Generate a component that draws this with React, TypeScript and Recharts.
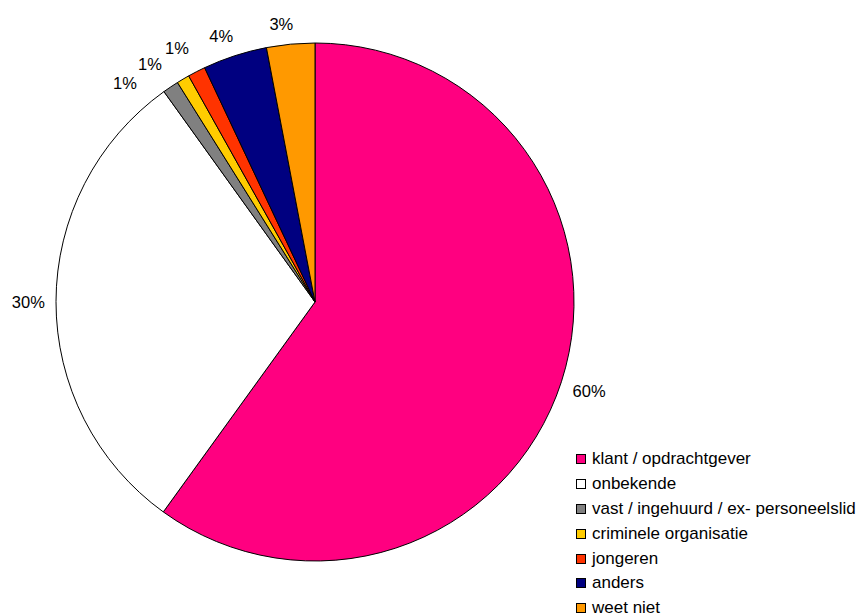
import React from 'react';
import { PieChart, Pie, Cell, Legend } from 'recharts';

const categories = [
  'klant / opdrachtgever',
  'onbekende',
  'vast / ingehuurd / ex- personeelslid',
  'criminele organisatie',
  'jongeren',
  'anders',
  'weet niet',
];
const values = [59.9, 30.1, 1.0, 0.8, 1.1, 4.0, 3.0];
const labels = ['60%', '30%', '1%', '1%', '1%', '4%', '3%'];
const colors = ['#FF0080', '#FFFFFF', '#808080', '#FFCC00', '#FF3300', '#000080', '#FF9900'];

const data = categories.map((name, i) => ({ name, value: values[i], label: labels[i] }));

const FONT = '"Liberation Sans", Arial, sans-serif';
const LABEL_FS = 16.5;
const CX = 315;
const CY = 302;
const R = 259;
const LABEL_BASE_R = 272;
const SMALL_EXTRA_R = 6;

// clockwise angles (degrees from top) of label positions; crowded labels are pushed counter-clockwise
const total = values.reduce((a, b) => a + b, 0);
const labelAngles: number[] = (() => {
  let acc = 0;
  const mids = values.map((v) => {
    const m = ((acc + v / 2) / total) * 360;
    acc += v;
    return m;
  });
  const p = mids.slice();
  const minSep = 6.3;
  for (let i = p.length - 2; i >= 0; i--) {
    if (p[i + 1] - p[i] < minSep) p[i] = p[i + 1] - minSep;
  }
  return p.map((a) => {
    const c = Math.cos((a * Math.PI) / 180);
    return a - 1.5 * Math.max(0, c);
  });
})();

const renderLabel = (props: any) => {
  const { index, cx, cy } = props;
  const text = data[index].label;
  const a = (labelAngles[index] * Math.PI) / 180;
  const s = Math.sin(a);
  const c = Math.cos(a);
  const w = text.length * LABEL_FS * 0.55 + 2;
  const h = LABEL_FS * 0.85;
  const ext = Math.abs(s) * (w / 2) + Math.abs(c) * (h / 2);
  const small = values[index] / total < 0.02;
  const r = LABEL_BASE_R + ext + (small ? SMALL_EXTRA_R : 0);
  const x = cx + r * s;
  const y = cy - r * c;
  return (
    <text
      x={x}
      y={y}
      textAnchor="middle"
      dominantBaseline="central"
      fontSize={LABEL_FS}
      fontFamily={FONT}
      fill="#000"
    >
      {text}
    </text>
  );
};

const renderLegend = () => (
  <div style={{ fontFamily: FONT, fontSize: 17, color: '#000' }}>
    {categories.map((c, i) => (
      <div key={c} style={{ height: 24.8, display: 'flex', alignItems: 'center', whiteSpace: 'nowrap' }}>
        <span
          style={{
            display: 'inline-block',
            width: 8,
            height: 8,
            border: '1px solid #000',
            background: colors[i],
            marginRight: 6,
          }}
        />
        <span>{c}</span>
      </div>
    ))}
  </div>
);

export default function App() {
  return (
    <div style={{ position: 'absolute', left: 0, top: 0, width: 861, height: 616, background: '#fff' }}>
      <PieChart width={861} height={616} margin={{ top: 0, right: 0, bottom: 0, left: 0 }}>
        <Pie
          data={data}
          dataKey="value"
          nameKey="name"
          cx={CX}
          cy={CY}
          outerRadius={R}
          startAngle={90}
          endAngle={-270}
          stroke="#000"
          strokeWidth={1}
          label={renderLabel}
          labelLine={false}
          isAnimationActive={false}
        >
          {data.map((d, i) => (
            <Cell key={d.name} fill={colors[i]} />
          ))}
        </Pie>
        <Legend
          layout="horizontal"
          verticalAlign="bottom"
          align="right"
          width={290}
          wrapperStyle={{ left: 576, top: 447, width: 290 }}
          content={renderLegend}
        />
      </PieChart>
    </div>
  );
}
